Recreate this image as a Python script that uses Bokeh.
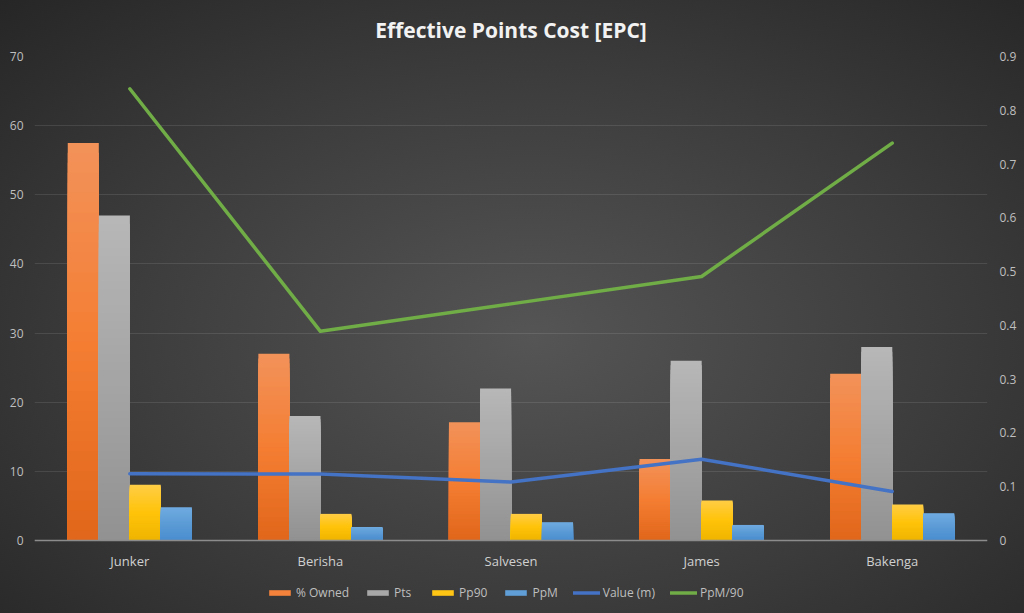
import numpy as np
from bokeh.plotting import figure
from bokeh.models import (Range1d, LinearAxis, FactorRange, Legend, LegendItem,
                          ColumnDataSource, FixedTicker, CustomJSTickFormatter)
from bokeh.embed import file_html
from bokeh.resources import INLINE

# ---- data ----
players = ["Junker", "Berisha", "Salvesen", "James", "Bakenga"]
owned = [57.5, 27.0, 17.1, 11.8, 24.1]
pts = [47, 18, 22, 26, 28]
pp90 = [8.05, 3.85, 3.85, 5.8, 5.2]
ppm = [4.8, 1.95, 2.65, 2.25, 3.95]
value_m = [9.65, 9.6, 8.45, 11.75, 7.1]        # left axis
ppm_90 = [0.84, 0.389, 0.44, 0.491, 0.739]      # right axis
left_ticks = [0, 10, 20, 30, 40, 50, 60, 70]
right_ticks = [0, 0.1, 0.2, 0.3, 0.4, 0.5, 0.6, 0.7, 0.8, 0.9]

# ---- layout constants (pixels) ----
FRAME_W, FRAME_H_DATA, BELOW = 953, 484, 73
LEFT_MAX, RIGHT_MAX = 70, 0.9
FONT = "Open Sans"
LABEL = "#bfbfbf"

p = figure(x_range=FactorRange(factors=players),
           y_range=Range1d(-BELOW * LEFT_MAX / FRAME_H_DATA, LEFT_MAX),
           frame_width=FRAME_W, frame_height=FRAME_H_DATA + BELOW,
           min_border_left=34, min_border_right=37, min_border_top=56, min_border_bottom=0,
           output_backend="svg", toolbar_location=None,
           title="Effective Points Cost [EPC]")
p.extra_y_ranges = {"right": Range1d(-BELOW * RIGHT_MAX / FRAME_H_DATA, RIGHT_MAX)}

p.background_fill_color = None
p.border_fill_color = None
p.outline_line_color = None
p.styles = {"background": "radial-gradient(ellipse farthest-corner at 52% 55%, #555555 0%, #3c3c3c 55%, #262626 100%)"}

p.title.align = "center"
p.title.text_color = "#f2f2f2"
p.title.text_font = FONT
p.title.text_font_style = "bold"
p.title.text_font_size = "21px"
p.title.standoff = 26

p.xgrid.grid_line_color = None
p.ygrid.ticker = FixedTicker(ticks=left_ticks)
p.ygrid.grid_line_color = "#ffffff"
p.ygrid.grid_line_alpha = 0.1


def mix(c1, c2, t):
    a = np.array([int(c1[i:i + 2], 16) for i in (1, 3, 5)], float)
    b = np.array([int(c2[i:i + 2], 16) for i in (1, 3, 5)], float)
    r = a + (b - a) * t
    return "#%02x%02x%02x" % tuple(int(round(v)) for v in r)


def gradient_bars(values, offset, dark, base, light, n=40):
    # painter's order: full-height light bar first, then shorter, darker bars on top
    xs, tops, cols = [], [], []
    for k in range(n - 1, -1, -1):
        t = (k + 0.5) / n
        c = mix(dark, base, t / 0.5) if t < 0.5 else mix(base, light, (t - 0.5) / 0.5)
        for cat, v in zip(players, values):
            xs.append((cat, offset))
            tops.append(v * (k + 1) / n)
            cols.append(c)
    return ColumnDataSource(dict(x=xs, top=tops, color=cols))


bw = 0.163
series = [
    (owned, -0.244, "#e0661a", "#f47e33", "#f2925a"),
    (pts, -0.081, "#929292", "#a5a5a5", "#b7b7b7"),
    (pp90, 0.081, "#efb400", "#ffc30a", "#ffcd45"),
    (ppm, 0.244, "#4a8dd0", "#5b9bd5", "#70abe1"),
]
bar_renderers = []
for vals, off, dk, bs, lt in series:
    s = gradient_bars(vals, off, dk, bs, lt)
    r = p.vbar(x="x", bottom=0, top="top", width=bw, source=s,
               fill_color="color", line_color=None)
    bar_renderers.append(r)

src = ColumnDataSource(dict(players=players, value_m=value_m, ppm_90=ppm_90))
r_val = p.line(x="players", y="value_m", source=src, line_color="#4472c4",
               line_width=3.5, line_cap="round", line_join="round")
r_g = p.line(x="players", y="ppm_90", source=src, line_color="#70ad47",
             line_width=3.5, line_cap="round", line_join="round", y_range_name="right")

# axes
p.xaxis.fixed_location = 0
p.xaxis.axis_line_color = "#8c8c8c"
p.xaxis.axis_line_width = 1.5
p.xaxis.major_tick_line_color = None
p.xaxis.minor_tick_line_color = None
p.xaxis.major_label_standoff = 5
p.xaxis.major_label_text_color = "#d0d0d0"
p.xaxis.major_label_text_font = FONT
p.xaxis.major_label_text_font_size = "13px"

p.yaxis.ticker = FixedTicker(ticks=left_ticks)
p.yaxis.axis_line_color = None
p.yaxis.major_tick_line_color = None
p.yaxis.minor_tick_line_color = None
p.yaxis.major_label_standoff = 5
p.yaxis.major_label_text_color = LABEL
p.yaxis.major_label_text_font = FONT
p.yaxis.major_label_text_font_size = "12px"

ra = LinearAxis(y_range_name="right", ticker=FixedTicker(ticks=right_ticks),
                formatter=CustomJSTickFormatter(code="return String(+tick.toFixed(1));"))
ra.axis_line_color = None
ra.major_tick_line_color = None
ra.minor_tick_line_color = None
ra.major_label_standoff = 6
ra.major_label_text_color = LABEL
ra.major_label_text_font = FONT
ra.major_label_text_font_size = "12px"
p.add_layout(ra, "right")

mid = 5 * 16  # a row from the middle band of each gradient
legend = Legend(items=[LegendItem(label="% Owned", renderers=[bar_renderers[0]], index=mid),
                       LegendItem(label="Pts", renderers=[bar_renderers[1]], index=mid),
                       LegendItem(label="Pp90", renderers=[bar_renderers[2]], index=mid),
                       LegendItem(label="PpM", renderers=[bar_renderers[3]], index=mid),
                       LegendItem(label="Value (m)", renderers=[r_val]),
                       LegendItem(label="PpM/90", renderers=[r_g])],
                orientation="horizontal", location=(232, 12))
legend.background_fill_color = None
legend.border_line_color = None
legend.label_text_color = LABEL
legend.label_text_font = FONT
legend.label_text_font_size = "12px"
legend.label_height = 18
legend.glyph_width = 27
legend.glyph_height = 7
legend.label_standoff = 3
legend.spacing = 15
legend.padding = 2
legend.margin = 0
p.add_layout(legend, "center")

open("out.html", "w").write(file_html(p, INLINE))
